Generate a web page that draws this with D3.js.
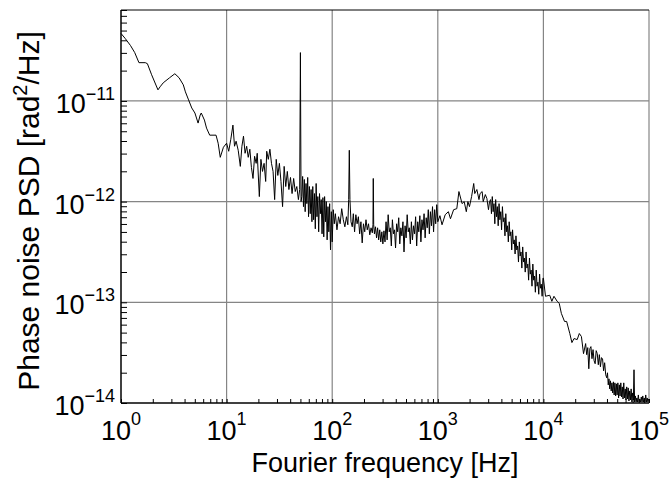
<!DOCTYPE html>
<html><head><meta charset="utf-8">
<script src="https://cdn.jsdelivr.net/npm/d3@7"></script>
<style>html,body{margin:0;padding:0;background:#fff;} svg{display:block;font-family:"Liberation Sans",Arial,sans-serif;}</style>
</head><body><svg id="c" width="672" height="483"></svg>
<script>
// Fourier frequency, as decade exponent log10(f / Hz)
const freqExp = [
0.00,0.04,0.09,0.13,0.17,0.23,0.25,0.29,0.35,0.37,0.40,0.46,0.51,0.55,0.59,0.61,0.64,0.67,0.70,0.73,0.75,0.76,0.79,0.81,0.84,0.90,0.92,0.94,0.97,
1.00,1.02,1.04,1.06,1.075,1.09,1.11,1.13,1.145,1.16,
1.175,1.19,1.205,1.22,1.235,1.25,1.265,1.28,1.29,1.31,
1.325,1.34,1.355,1.37,1.38,1.395,1.41,1.425,1.44,1.455,
1.47,1.485,1.50,1.515,1.53,1.545,1.56,1.575,1.59,1.605,
1.62,1.635,1.65,1.665,1.68,1.692,1.699,1.705,
1.712,1.72,1.728,1.736,1.744,1.752,1.76,1.768,1.776,1.784,
1.792,1.80,1.808,1.816,1.824,1.832,1.84,1.848,1.856,1.864,
1.872,1.88,1.888,1.896,1.904,1.912,1.92,1.928,1.936,1.944,
1.952,1.96,1.968,1.976,1.984,1.992,2.00,
2.01,2.02,2.03,2.045,2.06,2.075,2.09,2.105,2.12,2.135,
2.148,2.156,2.162,2.168,2.178,2.19,2.20,2.212,2.224,2.236,
2.248,2.26,2.272,2.284,2.296,2.308,2.32,2.332,2.344,2.356,
2.368,2.38,2.386,2.389,2.393,2.40,2.41,2.42,2.43,2.44,
2.45,2.46,2.47,2.48,2.49,2.50,
2.51,2.52,2.53,2.54,2.55,2.56,2.57,2.58,2.59,2.60,
2.61,2.62,2.63,2.64,2.65,2.66,2.67,2.68,2.69,2.70,
2.71,2.72,2.73,2.74,2.75,2.76,2.77,2.78,2.79,2.80,
2.81,2.82,2.83,2.84,2.85,2.86,2.87,2.88,2.89,2.90,
2.91,2.92,2.93,2.94,2.95,2.96,2.97,2.98,2.99,3.00,
3.02,3.04,3.07,3.10,3.12,3.15,3.18,3.20,3.23,3.25,
3.27,3.285,3.30,3.32,3.34,3.35,3.37,3.39,3.40,3.42,
3.43,3.45,3.465,3.48,3.49,
3.50,3.508,3.516,3.524,3.532,3.54,3.548,3.556,3.564,3.572,
3.58,3.588,3.596,3.604,3.612,3.62,3.628,3.636,3.644,3.652,
3.66,3.668,3.676,3.684,3.692,3.70,3.708,3.716,3.724,3.732,
3.74,3.748,3.756,3.764,3.772,3.78,3.788,3.796,3.804,3.812,
3.82,3.828,3.836,3.844,3.852,3.86,3.868,3.876,3.884,3.892,
3.90,3.908,3.916,3.924,3.932,3.94,3.948,3.956,3.964,3.972,
3.98,3.988,3.996,
4.00,4.02,4.06,4.08,4.10,4.13,4.15,4.17,4.20,4.22,
4.25,4.27,4.29,4.32,4.34,4.36,4.38,
4.40,4.41,4.42,4.43,4.44,4.45,4.46,4.47,4.48,4.49,
4.50,4.51,4.52,4.53,4.54,4.55,4.56,4.57,4.58,4.59,
4.60,4.607,4.614,4.621,4.628,4.635,4.642,4.649,4.656,4.663,
4.67,4.677,4.684,4.691,4.698,4.705,4.712,4.719,4.726,4.733,
4.74,4.747,4.754,4.761,4.768,4.775,4.782,4.789,4.796,4.803,
4.81,4.817,4.824,4.831,4.838,4.845,4.852,4.858,4.864,4.871,
4.878,4.885,4.892,4.899,4.906,4.913,4.92,4.927,4.934,4.941,
4.948,4.955,4.962,4.969,4.976,4.983,4.99,4.997];
// Phase noise PSD, as decade exponent log10(S / (rad^2/Hz))
const psdExp = [
-10.33,-10.38,-10.45,-10.52,-10.62,-10.62,-10.63,-10.74,-10.89,-10.86,-10.82,-10.77,-10.73,-10.77,-10.84,-10.91,-10.99,-11.07,-11.12,-11.22,-11.14,-11.12,-11.19,-11.27,-11.34,-11.34,-11.42,-11.56,-11.46,
-11.42,-11.50,-11.38,-11.24,-11.45,-11.40,-11.49,-11.65,-11.45,-11.35,
-11.52,-11.45,-11.56,-11.48,-11.66,-11.77,-11.55,-11.62,-11.52,-11.95,
-11.58,-11.70,-11.62,-11.80,-11.50,-11.58,-11.48,-11.62,-11.70,-11.98,
-11.58,-11.74,-11.62,-11.80,-12.05,-11.65,-11.85,-11.70,-11.88,-11.76,
-11.92,-11.77,-11.90,-11.85,-11.98,-11.88,-10.52,-12.00,
-11.95,-11.75,-12.05,-11.78,-12.10,-11.82,-12.02,-11.76,-12.15,-11.85,
-12.12,-11.88,-12.20,-11.85,-12.18,-11.92,-12.27,-11.82,-12.15,-11.95,
-12.30,-11.92,-12.12,-11.98,-12.32,-11.96,-12.35,-11.95,-12.20,-12.00,
-12.38,-12.05,-12.30,-12.02,-12.48,-12.10,-12.40,
-12.08,-12.22,-12.12,-12.28,-12.15,-12.22,-12.07,-12.18,-12.25,-12.15,
-12.23,-11.98,-11.49,-11.98,-12.20,-12.25,-12.12,-12.30,-12.13,-12.22,
-12.15,-12.32,-12.20,-12.41,-12.22,-12.30,-12.18,-12.28,-12.22,-12.33,
-12.26,-12.31,-12.23,-11.77,-12.23,-12.32,-12.25,-12.36,-12.26,-12.38,
-12.28,-12.40,-12.30,-12.42,-12.29,-12.40,
-12.20,-12.38,-12.13,-12.30,-12.26,-12.44,-12.18,-12.32,-12.28,-12.46,
-12.22,-12.30,-12.16,-12.42,-12.26,-12.34,-12.20,-12.50,-12.24,-12.36,
-12.13,-12.30,-12.26,-12.42,-12.20,-12.38,-12.24,-12.32,-12.15,-12.44,
-12.20,-12.30,-12.14,-12.40,-12.18,-12.28,-12.12,-12.36,-12.16,-12.26,
-12.08,-12.32,-12.10,-12.24,-12.05,-12.30,-12.08,-12.22,-12.03,-12.20,
-12.14,-12.23,-12.13,-12.10,-12.17,-12.08,-12.07,-11.90,-12.02,-12.00,
-12.10,-12.00,-12.05,-11.95,-11.82,-11.92,-11.88,-11.98,-11.92,-11.90,
-12.00,-11.93,-11.97,-12.08,-12.00,
-11.98,-12.12,-11.95,-12.10,-12.02,-12.22,-11.98,-12.15,-12.05,-12.24,
-12.02,-12.18,-12.10,-12.28,-12.05,-12.20,-12.16,-12.34,-12.12,-12.30,
-12.24,-12.40,-12.20,-12.34,-12.30,-12.48,-12.28,-12.42,-12.38,-12.52,
-12.34,-12.48,-12.44,-12.60,-12.40,-12.54,-12.50,-12.66,-12.45,-12.60,
-12.56,-12.70,-12.50,-12.66,-12.62,-12.78,-12.56,-12.72,-12.68,-12.84,
-12.62,-12.78,-12.74,-12.90,-12.68,-12.84,-12.80,-12.92,-12.72,-12.86,
-12.82,-12.94,-12.76,
-12.76,-12.94,-12.93,-12.99,-12.94,-12.99,-13.01,-13.11,-13.19,-13.19,
-13.31,-13.40,-13.36,-13.37,-13.31,-13.34,-13.51,
-13.41,-13.52,-13.45,-13.66,-13.46,-13.44,-13.56,-13.47,-13.58,-13.61,
-13.48,-13.51,-13.62,-13.52,-13.64,-13.55,-13.56,-13.68,-13.60,-13.72,
-13.75,-13.70,-13.82,-13.76,-13.86,-13.78,-13.88,-13.80,-13.90,-13.79,
-13.92,-13.80,-13.93,-13.81,-13.92,-13.80,-13.95,-13.82,-13.93,-13.80,
-13.94,-13.84,-13.96,-13.80,-13.95,-13.86,-13.97,-13.84,-13.96,-13.85,
-13.98,-13.88,-13.97,-13.86,-13.99,-13.90,-13.97,-13.67,-13.99,-13.93,
-13.99,-13.95,-13.99,-13.92,-13.99,-13.96,-13.99,-13.94,-13.99,-13.93,
-13.99,-13.95,-13.99,-13.92,-13.99,-13.95,-13.99,-13.96];

const xTickExps = [0, 1, 2, 3, 4, 5];
const yTickExps = [-14, -13, -12, -11];
const xDomain = [1, 1e5];
const yDomain = [1e-14, 8e-11];
const xTitle = "Fourier frequency [Hz]";
const yTitleMain = "Phase noise PSD [rad";
const yTitleSup = "2";
const yTitleEnd = "/Hz]";

const n = Math.min(freqExp.length, psdExp.length);
const data = freqExp.slice(0, n).map((e, i) => ({ f: Math.pow(10, e), s: Math.pow(10, psdExp[i]) }));

const svg = d3.select("#c");
const M = { left: 121, right: 649, top: 10, bottom: 403 };
const x = d3.scaleLog().domain(xDomain).range([M.left, M.right]);
const y = d3.scaleLog().domain(yDomain).range([M.bottom, M.top]);

const gridCol = "#858585";
svg.append("g").selectAll("line").data(xTickExps.filter(e => e > 0)).join("line")
  .attr("x1", d => x(Math.pow(10, d))).attr("x2", d => x(Math.pow(10, d)))
  .attr("y1", M.top).attr("y2", M.bottom)
  .attr("stroke", gridCol).attr("stroke-width", 1.2);
svg.append("g").selectAll("line").data(yTickExps.filter(e => e > -14)).join("line")
  .attr("y1", d => y(Math.pow(10, d))).attr("y2", d => y(Math.pow(10, d)))
  .attr("x1", M.left).attr("x2", M.right)
  .attr("stroke", gridCol).attr("stroke-width", 1.2);

svg.append("path").datum(data)
  .attr("fill", "none").attr("stroke", "#000").attr("stroke-width", 1)
  .attr("d", d3.line().x(d => x(d.f)).y(d => y(d.s)));

const xMinor = x.ticks().filter(v => v >= xDomain[0] && v <= xDomain[1]);
const yMinor = y.ticks().filter(v => v >= yDomain[0] && v <= yDomain[1]);
const gx = svg.append("g").attr("transform", `translate(0,${M.bottom})`)
  .call(d3.axisBottom(x).tickValues(xMinor).tickSize(-4).tickFormat(""));
const gy = svg.append("g").attr("transform", `translate(${M.left},0)`)
  .call(d3.axisLeft(y).tickValues(yMinor).tickSize(-6).tickFormat(""));
[gx, gy].forEach(g => {
  g.select(".domain").remove();
  g.selectAll(".tick line").attr("stroke", "#000").attr("stroke-width", 1);
});
svg.append("line").attr("x1", M.left).attr("x2", M.right).attr("y1", M.bottom).attr("y2", M.bottom).attr("stroke", "#000").attr("stroke-width", 1.5);
svg.append("line").attr("x1", M.left).attr("x2", M.left).attr("y1", M.top).attr("y2", M.bottom).attr("stroke", "#000").attr("stroke-width", 1.5);
svg.append("line").attr("x1", M.left).attr("x2", M.right).attr("y1", M.top).attr("y2", M.top).attr("stroke", "#000").attr("stroke-width", 1);

const fmtExp = d => String(d).replace("-", "\u2212");
const xl = svg.append("g").selectAll("text").data(xTickExps).join("text")
  .attr("x", d => x(Math.pow(10, d))).attr("y", 440)
  .attr("text-anchor", "middle").attr("fill", "#000");
xl.append("tspan").attr("font-size", 27).text("10");
xl.append("tspan").attr("font-size", 18).attr("dy", -15).text(fmtExp);

const yl = svg.append("g").selectAll("text").data(yTickExps).join("text")
  .attr("x", 115).attr("y", d => y(Math.pow(10, d)) + 12)
  .attr("text-anchor", "end").attr("fill", "#000");
yl.append("tspan").attr("font-size", 27).text("10");
yl.append("tspan").attr("font-size", 18).attr("dy", -13).text(fmtExp);

svg.append("text").attr("x", 385).attr("y", 472).attr("text-anchor", "middle")
  .attr("font-size", 27).attr("fill", "#000").text(xTitle);
const yt = svg.append("text").attr("transform", "translate(39,211) rotate(-90)")
  .attr("text-anchor", "middle").attr("font-size", 30).attr("fill", "#000");
yt.append("tspan").text(yTitleMain);
yt.append("tspan").attr("font-size", 20).attr("dy", -12).text(yTitleSup);
yt.append("tspan").attr("dy", 12).text(yTitleEnd);
</script></body></html>
